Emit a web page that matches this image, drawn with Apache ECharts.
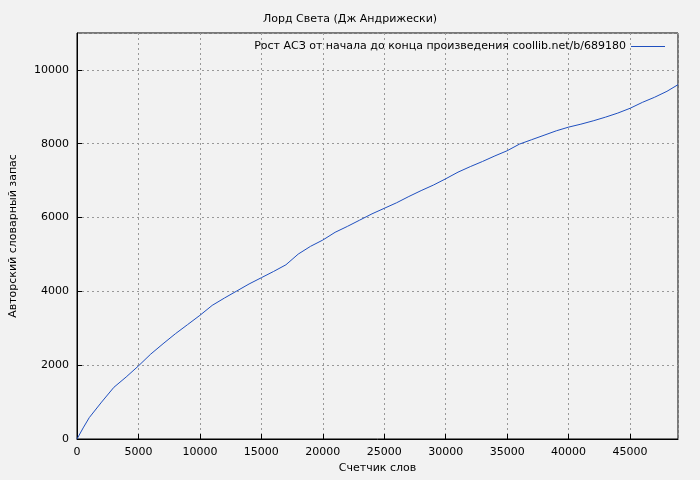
<!DOCTYPE html>
<html><head><meta charset="utf-8">
<script src="https://cdn.jsdelivr.net/npm/echarts@6/dist/echarts.min.js"></script>
<style>html,body{margin:0;background:#f2f2f2}#c{width:700px;height:480px}</style>
</head><body><div id="c"></div>
<script>
const xs=[0,500,1000,2000,3000,4000,5000,6000,7000,8000,9000,10000,11000,12000,13000,14000,15000,16000,17000,18000,19000,20000,21000,22000,23000,24000,25000,26000,27000,28000,29000,30000,31000,32000,33000,34000,35000,36000,37000,38000,39000,40000,41000,42000,43000,44000,45000,46000,47000,48000,48900];
const ys=[0,300,580,1000,1400,1680,1980,2300,2580,2850,3100,3350,3620,3820,4010,4200,4370,4540,4720,5010,5220,5390,5600,5760,5930,6100,6250,6400,6570,6730,6880,7050,7230,7380,7520,7670,7810,7990,8110,8230,8350,8450,8530,8620,8720,8830,8960,9120,9260,9420,9600];
const title='Лорд Света (Дж Андрижески)';
const seriesName='Рост АСЗ от начала до конца произведения coollib.net/b/689180';
const chart=echarts.init(document.getElementById('c'));
const ax={color:'#000',fontFamily:'DejaVu Sans',fontSize:11};
const lab=Object.assign({formatter:v=>String(v),showMaxLabel:false},ax);
chart.setOption({
 backgroundColor:'#f2f2f2',animation:false,
 title:{text:title,left:'center',top:9,textStyle:{fontSize:11,fontWeight:'normal',fontFamily:'DejaVu Sans',color:'#000'}},
 legend:{right:30,top:36,icon:'path://M0,0H40V1H0Z',itemWidth:34,itemHeight:2,align:'right',textStyle:{fontSize:11,fontFamily:'DejaVu Sans',color:'#000'},data:[seriesName]},
 grid:{left:75,right:22,top:33,bottom:41,show:true,borderColor:'#000',borderWidth:1},
 xAxis:{type:'value',min:0,max:48900,interval:5000,name:'Счетчик слов',nameLocation:'middle',nameGap:22,nameTextStyle:ax,
  axisLabel:lab,axisLine:{lineStyle:{color:'#000'}},axisTick:{inside:true,lineStyle:{color:'#000'}},
  splitLine:{lineStyle:{color:'#999',type:[2,3]}}},
 yAxis:{type:'value',min:0,max:11000,interval:2000,name:'Авторский словарный запас',nameLocation:'middle',nameGap:58,nameTextStyle:ax,
  axisLabel:lab,axisLine:{show:true,lineStyle:{color:'#000'}},axisTick:{inside:true,lineStyle:{color:'#000'}},
  splitLine:{lineStyle:{color:'#999',type:[2,3]}}},
 series:[{name:seriesName,type:'line',showSymbol:false,data:xs.map((x,i)=>[x,ys[i]]),lineStyle:{color:'#1f4fbf',width:1},itemStyle:{color:'#1f4fbf'}}]
});
</script></body></html>
